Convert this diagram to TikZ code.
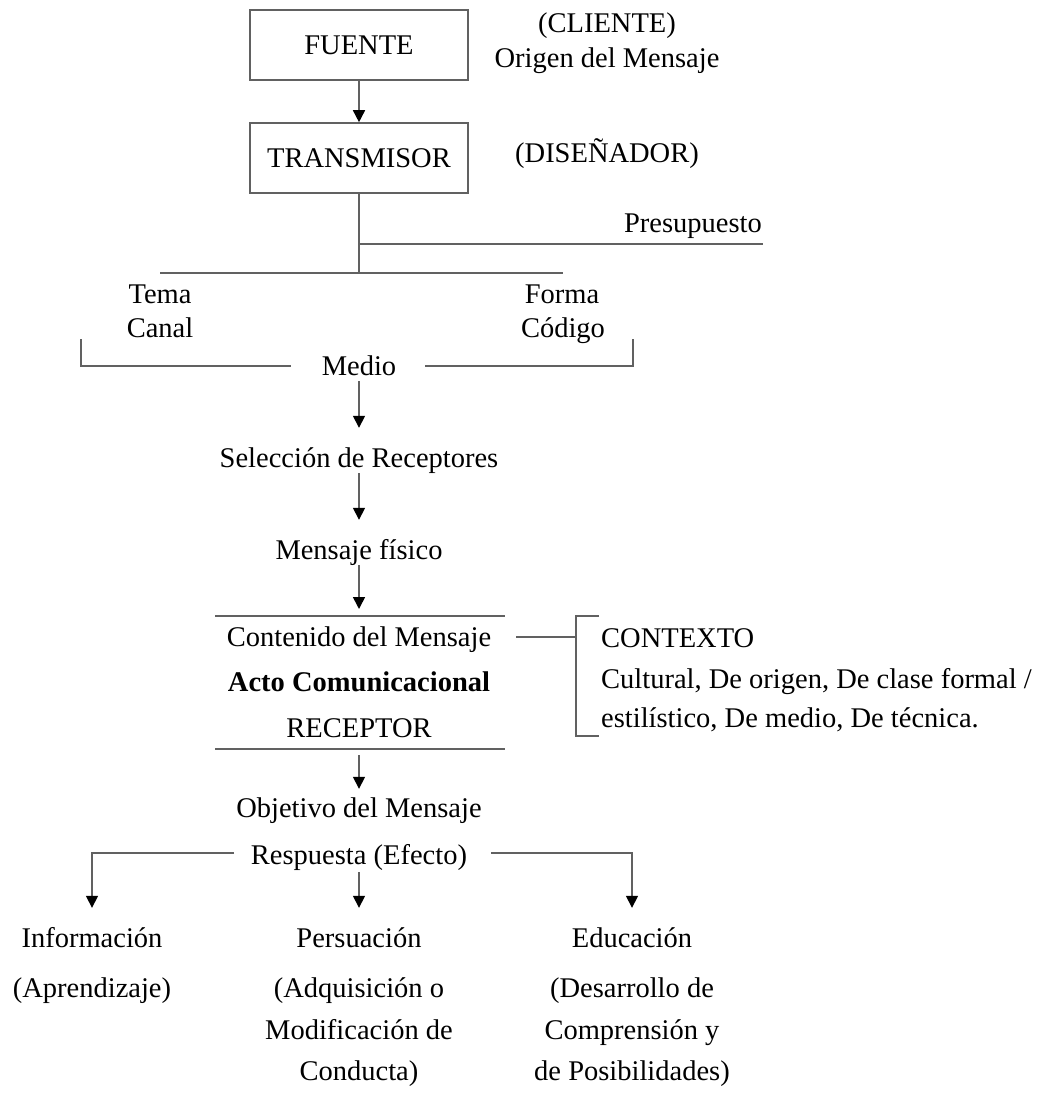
\documentclass[tikz,border=0pt]{standalone}
\usepackage{fontspec}
\setmainfont{Liberation Serif}
\usetikzlibrary{arrows.meta}
\begin{document}
\begin{tikzpicture}[x=1pt,y=-1pt,
  every node/.style={font=\fontsize{28.5}{34}\selectfont, inner sep=0pt,
    text height=19pt, text depth=6pt},
  lbl/.style={anchor=base},
  lblw/.style={anchor=base west},
  line/.style={draw=black!62, line width=1.6pt},
  link/.style={line, -{Triangle[length=12pt,width=12pt,color=black]}},
  box/.style={draw=black!62, line width=1.6pt, minimum width=218pt,
    minimum height=70pt, text depth=0pt}
]
\useasboundingbox (0,0) rectangle (1042,1099);

% sender chain
\node[box] (fuente) at (359,45) {FUENTE};
\node[box] (transmisor) at (359,158) {TRANSMISOR};
\node[lbl] (cliente) at (607,33) {(CLIENTE)};
\node[lbl] (origen) at (607,68) {Origen del Mensaje};
\node[lbl] (disenador) at (607,163) {(DISEÑADOR)};
\node[anchor=base east] (presupuesto) at (762,233) {Presupuesto};

\draw[link] (fuente) -- (transmisor);

% budget branch and subject/form bar
\coordinate (pstart) at (359,244);
\coordinate (pend) at (763,244);
\coordinate (bar) at (359,273);
\coordinate (barL) at (160,273);
\coordinate (barR) at (563,273);
\draw[line] (transmisor.south) -- (bar);
\draw[line] (pstart) -- (pend);
\draw[line] (barL) -- (barR);

\node[lbl] (tema) at (160,303) {Tema};
\node[lbl] (canal) at (160,337) {Canal};
\node[lbl] (forma) at (562,303) {Forma};
\node[lbl] (codigo) at (563,337) {Código};

% medium bracket
\node[lbl] (medio) at (359,375) {Medio};
\coordinate (brL) at (81,339);
\coordinate (brR) at (633,339);
\coordinate (mL) at (291,366);
\coordinate (mR) at (425,366);
\draw[line] (brL) |- (mL);
\draw[line] (mR) -| (brR);

\node[lbl] (seleccion) at (359,467) {Selección de Receptores};
\node[lbl] (fisico) at (359,559) {Mensaje físico};

\draw[link, shorten >=20pt] (medio.south) -- (seleccion.north);
\draw[link, shorten >=20pt] (seleccion.south) -- (fisico.north);

% communication act
\coordinate (topL) at (215,616);
\coordinate (topR) at (505,616);
\coordinate (topM) at (359,616);
\coordinate (botL) at (215,749);
\coordinate (botR) at (505,749);
\coordinate (botM) at (359,749);
\draw[line] (topL) -- (topR);
\draw[line] (botL) -- (botR);
\draw[link, shorten >=7pt] (fisico.south) -- (topM);

\node[lbl] (contenido) at (359,646) {Contenido del Mensaje};
\node[lbl, font=\fontsize{28.5}{34}\selectfont\bfseries] (acto) at (359,691) {Acto Comunicacional};
\node[lbl] (receptor) at (359,737) {RECEPTOR};

% context
\coordinate (cc) at (516,637);
\coordinate (cx) at (576,637);
\coordinate (ctop) at (599,616);
\coordinate (cbot) at (599,736);
\draw[line] (cc) -- (cx);
\draw[line] (ctop) -| (cx) |- (cbot);
\node[lblw] (contexto) at (601,647) {CONTEXTO};
\node[lblw] (cultural) at (601,688) {Cultural, De origen, De clase formal /};
\node[lblw] (estilo) at (601,727) {estilístico, De medio, De técnica.};

% aim and response
\node[lbl] (objetivo) at (359,817) {Objetivo del Mensaje};
\node[lbl] (respuesta) at (359,864) {Respuesta (Efecto)};
\draw[link, shorten <=6pt, shorten >=9pt] (botM) -- (objetivo.north);

\node[lbl] (informacion) at (92,947) {Información};
\node[lbl] (aprendizaje) at (92,997) {(Aprendizaje)};
\node[lbl] (persuacion) at (359,947) {Persuación};
\node[lbl] (adquisicion) at (359,997) {(Adquisición o};
\node[lbl] (modificacion) at (359,1039) {Modificación de};
\node[lbl] (conducta) at (359,1080) {Conducta)};
\node[lbl] (educacion) at (632,947) {Educación};
\node[lbl] (desarrollo) at (632,997) {(Desarrollo de};
\node[lbl] (comprension) at (632,1039) {Comprensión y};
\node[lbl] (posibilidades) at (632,1080) {de Posibilidades)};

\coordinate (rL) at (234,853);
\coordinate (rR) at (491,853);
\draw[link, shorten >=20pt] (rL) -| (informacion.north);
\draw[link, shorten >=20pt] (rR) -| (educacion.north);
\draw[link, shorten <=2pt, shorten >=20pt] (respuesta.south) -- (persuacion.north);
\end{tikzpicture}
\end{document}
